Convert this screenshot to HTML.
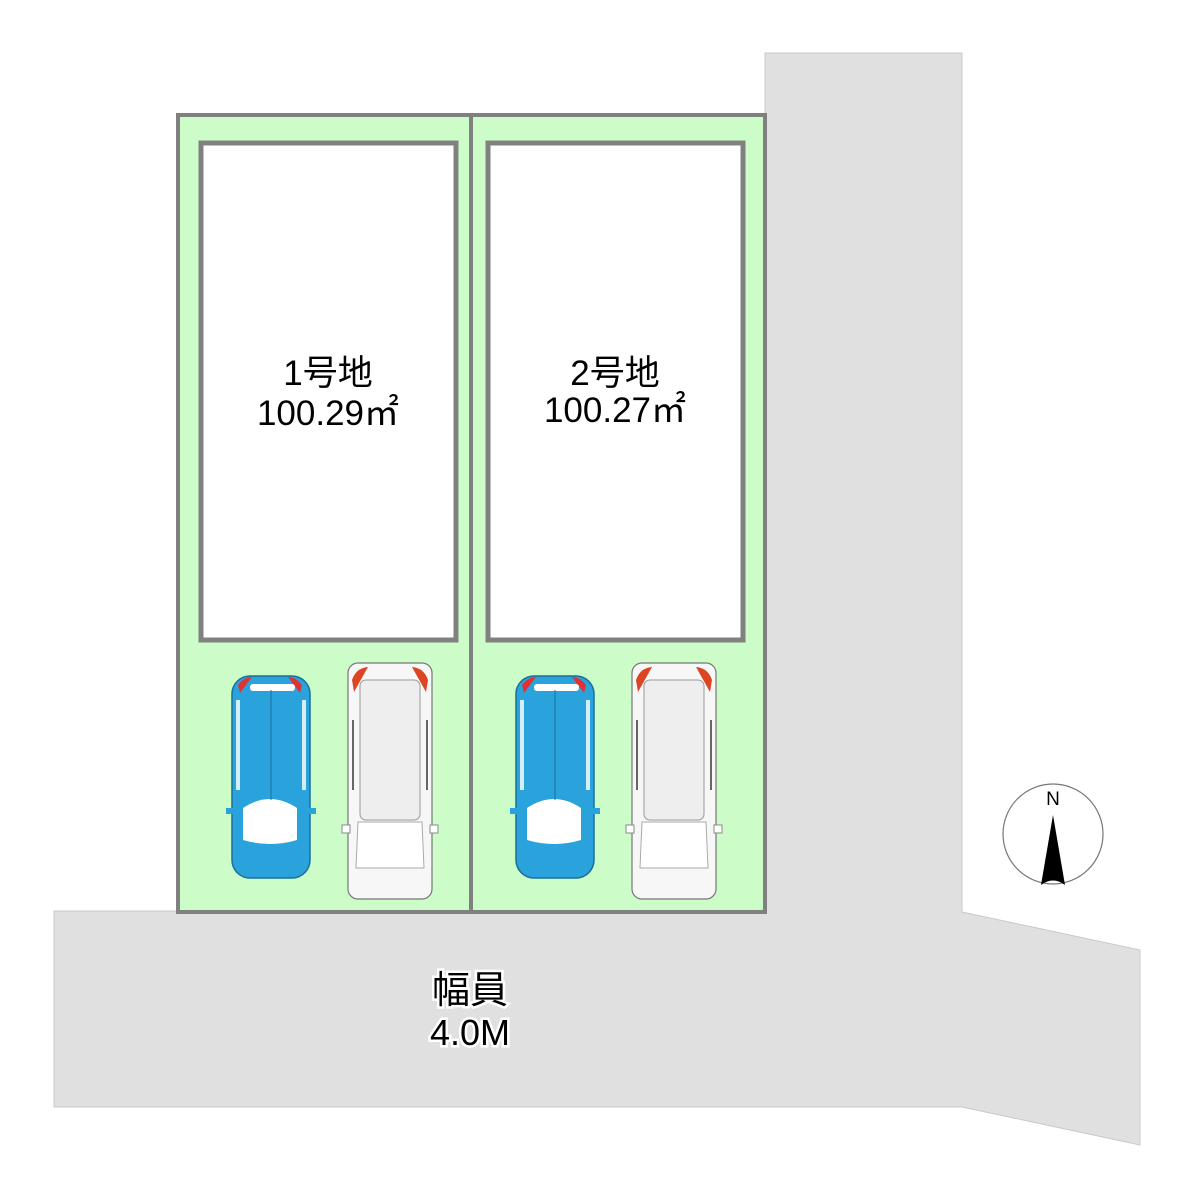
<!DOCTYPE html>
<html><head><meta charset="utf-8"><style>
html,body{margin:0;padding:0;background:#fff;}
svg{display:block}
text{font-family:"Liberation Sans","Noto Sans CJK JP",sans-serif;}
</style></head><body>
<svg width="1194" height="1200" viewBox="0 0 1194 1200" xmlns="http://www.w3.org/2000/svg">
<defs>
<g id="blue">
  <rect x="232" y="676" width="78" height="202" rx="18" fill="#2aa3dc" stroke="#1b6f99" stroke-width="1.5"/>
  <path d="M238 685 Q244 677 252 677 L240 693 Z" fill="#d33"/>
  <path d="M302 685 Q296 677 288 677 L300 693 Z" fill="#d33"/>
  <rect x="250" y="684" width="45" height="7" rx="3" fill="#fff"/>
  <path d="M243 808 Q270 790 297 808 L297 840 Q270 848 243 840 Z" fill="#fff"/>
  <rect x="236" y="700" width="4" height="90" fill="#fff" opacity="0.8"/>
  <rect x="302" y="700" width="4" height="90" fill="#fff" opacity="0.8"/>
  <rect x="226" y="808" width="8" height="6" fill="#2aa3dc"/>
  <rect x="308" y="808" width="8" height="6" fill="#2aa3dc"/>
  <line x1="271" y1="690" x2="271" y2="800" stroke="#1b6f99" stroke-width="1"/>
</g>
<g id="white">
  <rect x="348" y="663" width="84" height="236" rx="10" fill="#f7f7f7" stroke="#777" stroke-width="1.2"/>
  <path d="M352 680 Q356 668 368 667 L354 692 Z" fill="#d42"/>
  <path d="M428 680 Q424 668 412 667 L426 692 Z" fill="#d42"/>
  <rect x="360" y="680" width="60" height="140" rx="6" fill="#eee" stroke="#999" stroke-width="1"/>
  <path d="M358 822 L422 822 L424 868 L356 868 Z" fill="#fff" stroke="#aaa" stroke-width="1"/>
  <rect x="342" y="825" width="8" height="8" fill="#fff" stroke="#888" stroke-width="1"/>
  <rect x="430" y="825" width="8" height="8" fill="#fff" stroke="#888" stroke-width="1"/>
  <line x1="353" y1="720" x2="353" y2="790" stroke="#666" stroke-width="2"/>
  <line x1="427" y1="720" x2="427" y2="790" stroke="#666" stroke-width="2"/>
</g>
</defs>
<polygon points="765,53 962,53 962,912 1140,950 1140,1145 962,1107 54,1107 54,911 765,911" fill="#e0e0e0" stroke="#c8c8c8" stroke-width="1"/>
<rect x="178" y="115" width="587" height="797" fill="#ccfcc8" stroke="#808080" stroke-width="4"/>
<line x1="471" y1="115" x2="471" y2="912" stroke="#808080" stroke-width="4"/>
<rect x="201" y="143" width="255" height="497" fill="#fff" stroke="#808080" stroke-width="5"/>
<rect x="488" y="143" width="255" height="497" fill="#fff" stroke="#808080" stroke-width="5"/>
<text x="328" y="385" font-size="35" text-anchor="middle">1号地</text>
<text x="328" y="425" font-size="35" text-anchor="middle">100.29㎡</text>
<text x="615" y="385" font-size="35" text-anchor="middle">2号地</text>
<text x="615" y="422" font-size="35" text-anchor="middle">100.27㎡</text>
<use href="#blue"/><use href="#white"/>
<use href="#blue" transform="translate(284,0)"/><use href="#white" transform="translate(284,0)"/>
<text x="470" y="1003" font-size="38" text-anchor="middle" stroke="#fff" stroke-width="5" paint-order="stroke">幅員</text>
<text x="470" y="1045" font-size="36" text-anchor="middle" stroke="#fff" stroke-width="5" paint-order="stroke">4.0M</text>
<circle cx="1053" cy="834" r="50" fill="#fff" stroke="#777" stroke-width="1.2"/>
<text x="1053" y="805" font-size="19" text-anchor="middle" font-family="Liberation Serif,serif">N</text>
<path d="M1053 815 L1041 885 Q1053 876 1065 885 Z" fill="#000"/>
</svg>
</body></html>
